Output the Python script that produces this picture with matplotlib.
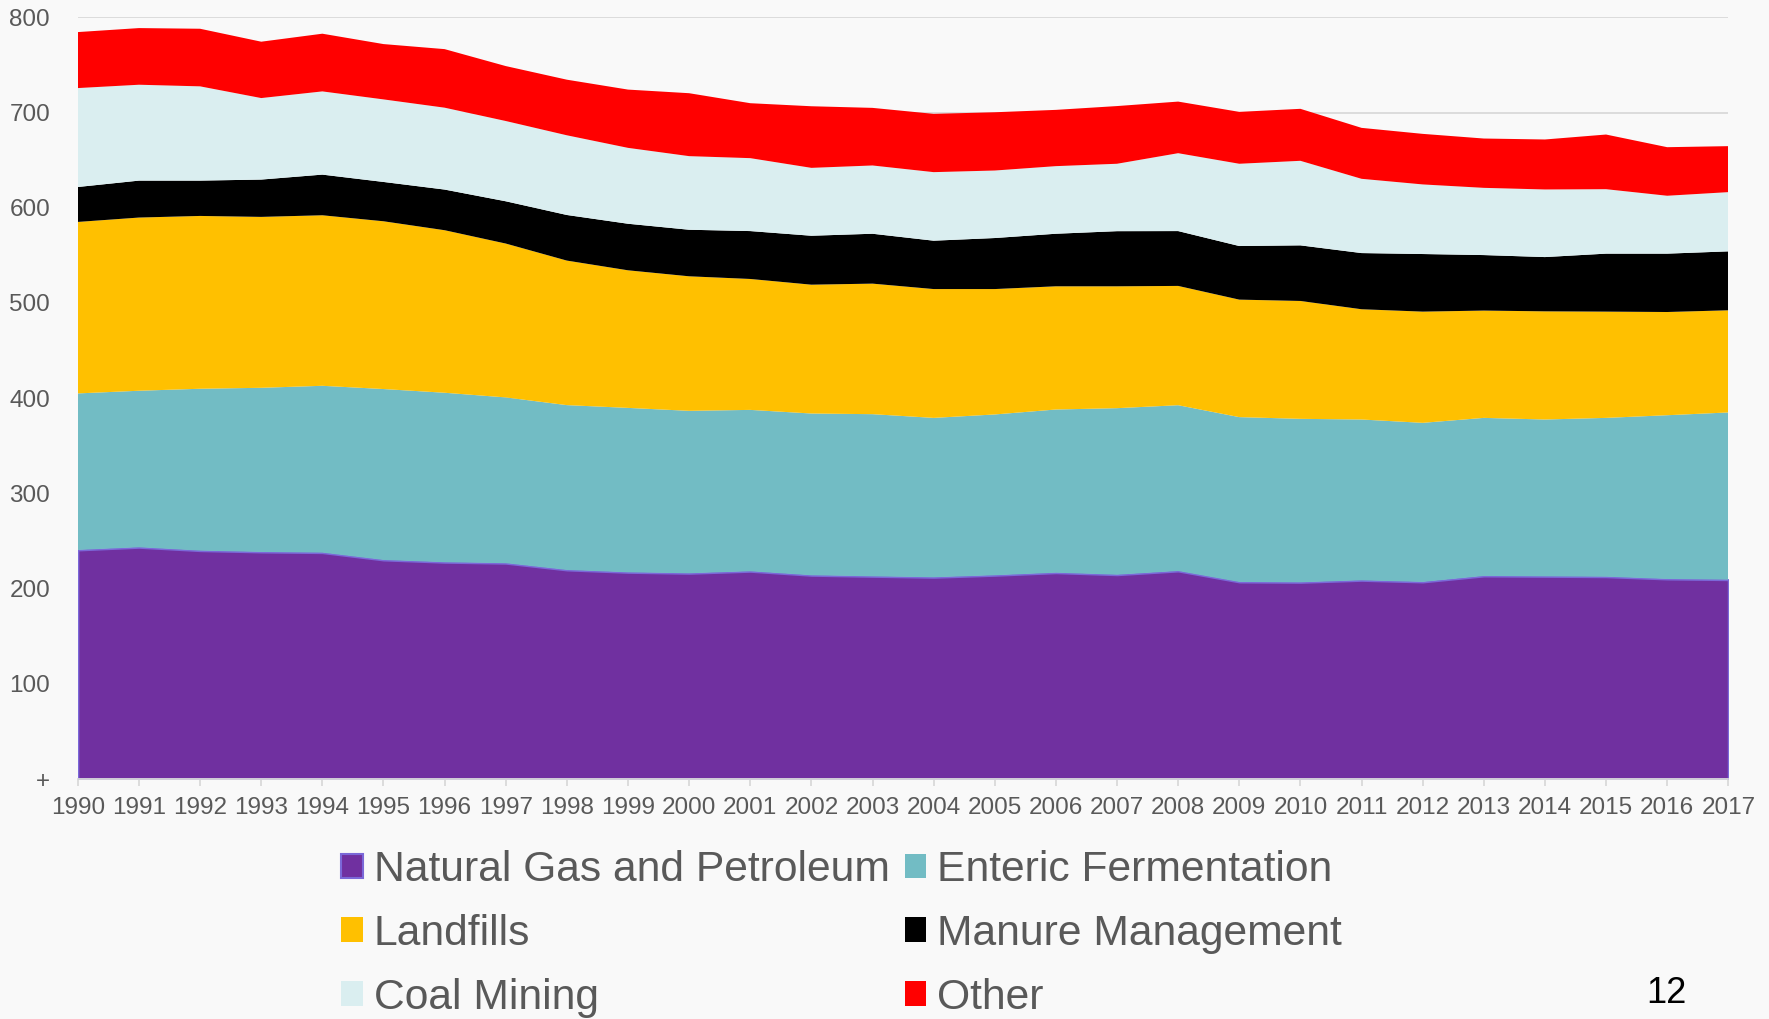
import numpy as np
import matplotlib.pyplot as plt

plt.rcParams['font.family'] = ['Liberation Sans', 'DejaVu Sans']

# Data
years = list(range(1990, 2018))
natural_gas = [240.6, 243.4, 239.9, 238.5, 237.8, 230.1, 227.7, 226.7, 219.6, 217.1,
               216.1, 218.2, 214.0, 212.9, 211.9, 214.0, 216.7, 214.6, 218.5, 207.0,
               206.6, 208.7, 207.0, 213.3, 212.9, 212.5, 210.1, 209.4]
enteric = [164.4, 164.4, 170.0, 172.4, 175.2, 179.5, 178.0, 174.1, 173.1, 172.7,
           170.6, 169.5, 169.9, 170.3, 167.4, 168.9, 171.4, 174.9, 174.1, 173.1,
           171.7, 168.9, 167.1, 166.0, 164.7, 166.8, 172.0, 175.6]
landfills = [180.1, 181.9, 181.5, 179.5, 179.1, 176.2, 170.7, 161.6, 151.8, 144.5,
             141.3, 137.5, 135.3, 137.1, 135.3, 131.7, 129.4, 128.0, 125.3, 123.4,
             123.8, 115.8, 116.8, 112.7, 113.6, 111.6, 108.4, 107.3]
manure = [36.7, 38.8, 37.1, 39.2, 42.7, 41.3, 42.7, 44.4, 47.9, 48.9,
          48.9, 50.3, 51.4, 52.4, 50.8, 53.6, 55.2, 57.9, 57.6, 56.3,
          58.4, 59.0, 60.5, 58.3, 57.0, 60.9, 61.3, 61.9]
coal = [103.9, 100.7, 99.0, 85.6, 87.4, 86.7, 86.0, 84.3, 83.7, 79.7,
        77.3, 76.6, 71.3, 71.7, 72.0, 70.9, 71.0, 70.8, 81.8, 86.4,
        88.8, 78.0, 73.1, 70.6, 71.0, 67.7, 60.8, 62.2]
other = [58.8, 59.5, 60.5, 59.2, 60.6, 58.1, 61.5, 57.7, 58.4, 61.2,
         66.1, 57.7, 64.7, 60.5, 61.2, 61.2, 59.1, 60.6, 54.2, 54.5,
         54.6, 53.5, 53.1, 51.8, 52.5, 57.4, 51.0, 48.3]

labels = ['Natural Gas and Petroleum', 'Enteric Fermentation', 'Landfills',
          'Manure Management', 'Coal Mining', 'Other']
colors = ['#7030A0', '#72BCC4', '#FFC000', '#000000', '#DAEEF0', '#FF0000']
y_ticks = [0, 100, 200, 300, 400, 500, 600, 700, 800]
y_ticklabels = ['+', '100', '200', '300', '400', '500', '600', '700', '800']

bg = '#F9F9F9'
txt = '#595959'

fig = plt.figure(figsize=(17.69, 10.19), dpi=100, facecolor=bg)
ax = fig.add_axes([0.044, 0.2355, 0.933, 0.7475])
ax.set_facecolor(bg)

polys = ax.stackplot(years, natural_gas, enteric, landfills, manure, coal, other,
                     colors=colors, labels=labels, linewidth=0)
polys[0].set_edgecolor('#7B68D8')
polys[0].set_linewidth(1.5)

ax.set_xlim(1990, 2017)
ax.set_ylim(0, 800)
ax.set_xticks(years)
ax.set_xticklabels([str(y) for y in years])
ax.set_yticks(y_ticks)
ax.set_yticklabels(y_ticklabels)

ax.grid(axis='y', color='#D9D9D9', linewidth=1.3)
ax.set_axisbelow(True)
for s in ['top', 'right', 'left']:
    ax.spines[s].set_visible(False)
ax.spines['bottom'].set_color('#D9D9D9')
ax.spines['bottom'].set_linewidth(1.3)

ax.tick_params(axis='x', colors='#D9D9D9', labelcolor=txt, labelsize=17.5,
               length=5, width=1.3, pad=8)
ax.tick_params(axis='y', length=0, labelcolor=txt, labelsize=17.5, pad=20)

# legend is filled row by row in the reference
order = [0, 2, 4, 1, 3, 5]
leg = fig.legend([polys[i] for i in order], [labels[i] for i in order],
                 loc='upper left', bbox_to_anchor=(0.193, 0.166), ncol=2,
                 fontsize=30.7, frameon=False, handlelength=0.5, handleheight=0.5,
                 handletextpad=0.26, columnspacing=0.36, labelspacing=0.56,
                 borderpad=0, borderaxespad=0)
for t in leg.get_texts():
    t.set_color(txt)

fig.text(0.942, 0.025, '12', fontsize=26, color='black', ha='center', va='center')

fig.savefig('out.png', dpi=100, facecolor=bg)
